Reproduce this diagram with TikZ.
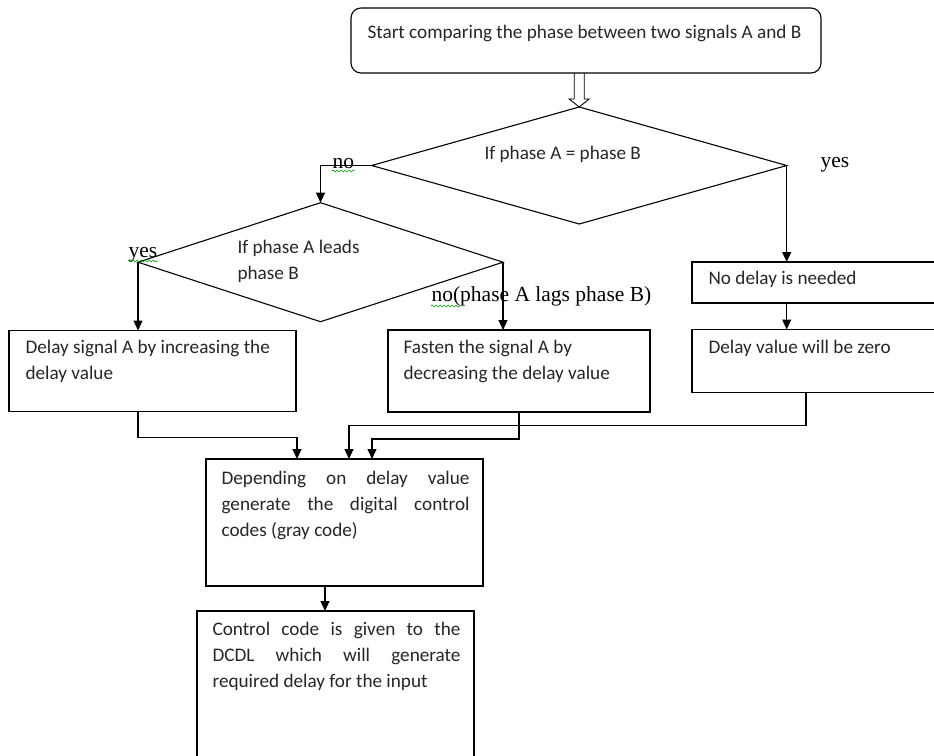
\documentclass[tikz,border=0pt]{standalone}
\usepackage{fontspec}
\setmainfont{Carlito}
\newfontfamily\timesfont{Liberation Serif}
\usetikzlibrary{arrows.meta,shapes.geometric,calc,decorations.pathmorphing}

\begin{document}
\begin{tikzpicture}[x=1pt,y=-1pt,line width=1.1pt,
    box/.style={draw,rectangle,anchor=north west,inner sep=0pt,outer sep=0pt},
    decide/.style={draw,diamond,inner sep=0pt,outer sep=0pt},
    txt/.style={anchor=base west,text width=460pt,align=flush left,inner sep=0pt,text=black!85,font=\fontsize{19.2}{26}\selectfont},
    jtxt/.style={txt,text width=248pt,align=justify},
    lbl/.style={anchor=base west,inner sep=0pt,font=\timesfont\fontsize{21.5}{24}\selectfont},
    arr/.style={-{Triangle[length=10pt,width=9pt]}},
    spell/.style={draw=green!60!black,line width=.6pt,decorate,decoration={snake,amplitude=1pt,segment length=4pt}}]
    \useasboundingbox (0,0) rectangle (934,755);
    \clip (0,0) rectangle (934,755);

    % boxes and decisions
    \node[box,rounded corners=10pt,minimum width=470pt,minimum height=65pt] (start) at (351,8) {};
    \node[decide,minimum width=415pt,minimum height=117pt] (d1) at (579.2,165.5) {};
    \node[decide,minimum width=365pt,minimum height=119pt] (d2) at (320.5,262.2) {};
    \node[box,minimum width=287pt,minimum height=81pt] (dly) at (9,330.5) {};
    \node[box,minimum width=262pt,minimum height=82pt] (fst) at (388,330) {};
    \node[box,minimum width=300pt,minimum height=41pt] (nod) at (692,262) {};
    \node[box,minimum width=300pt,minimum height=63pt] (zero) at (692,329.5) {};
    \node[box,minimum width=277pt,minimum height=127pt] (dep) at (206,459) {};
    \node[box,minimum width=277pt,minimum height=170pt] (ctl) at (197,611) {};

    % texts
    \node[txt] (startt) at ($(start.north west)+(16,30)$) {Start comparing the phase between two signals A and B};
    \node[txt] (d1t) at (484,159) {If phase A = phase B};
    \node[txt] (d2t) at (237,253) {If phase A leads\\phase B};
    \node[txt] (dlyt) at ($(dly.north west)+(16,23)$) {Delay signal A by increasing the\\delay value};
    \node[txt] (fstt) at ($(fst.north west)+(15,23)$) {Fasten the signal A by\\decreasing the delay value};
    \node[txt] (nodt) at ($(nod.north west)+(16,22)$) {No delay is needed};
    \node[txt] (zerot) at ($(zero.north west)+(16,24)$) {Delay value will be zero};
    \node[jtxt] (dept) at ($(dep.north west)+(15,25)$) {Depending on delay value\linebreak generate the digital control\linebreak codes (gray code)};
    \node[jtxt] (ctlt) at ($(ctl.north west)+(15,24)$) {Control code is given to the\linebreak DCDL which will generate\linebreak required delay for the input};

    % branch labels
    \node[lbl] (no1) at (332,168) {no};
    \node[lbl] (yes1) at (820,167) {yes};
    \node[lbl] (yes2) at (128,257) {yes};
    \node[lbl] (no2) at (431,301) {no(phase A lags phase B)};
    \draw[spell] ($(no1.base west)+(0,3)$) -- ($(no1.base east)+(0,3)$);
    \draw[spell] ($(yes2.base west)+(0,4)$) -- ($(yes2.base east)+(0,4)$);
    \draw[spell] ($(no2.base west)+(0,5)$) -- ++(30,0);

    % connectors
    \draw[line width=.9pt] ($(d1.north)+(-5,-34)$) -- ++(0,26) -- ++(-5,0) -- (d1.north) -- ++(10,-8) -- ++(-5,0) -- ++(0,-26); % hollow arrow
    \draw[arr] (d1.west) -| (d2.north);
    \draw[arr] (d1.east) -- (d1.east |- nod.north);
    \draw[arr] (d1.east |- nod.south) -- (d1.east |- zero.north);
    \draw[arr] (d2.west) -- (d2.west |- dly.north);
    \draw[arr] (d2.east) -- (d2.east |- fst.north);
    \draw[arr] (d2.west |- dly.south) -- ++(0,26) -| ($(dep.north west)+(91,0)$);
    \draw[arr] (fst.south) -- ++(0,27) -| ($(dep.north west)+(166,0)$);
    \draw[arr] ($(zero.south west)+(114,0)$) -- ++(0,33) -| ($(dep.north west)+(143,0)$);
    \draw[arr] ($(dep.south west)+(119,0)$) -- ($(ctl.north west)+(128,0)$);
\end{tikzpicture}
\end{document}
